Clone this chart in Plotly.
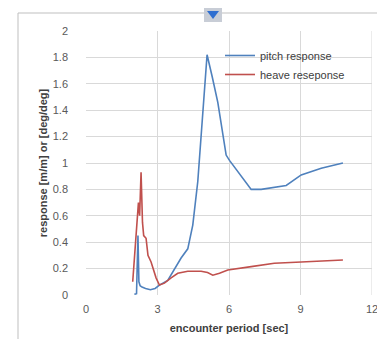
import plotly.graph_objects as go

pitch_x = [2.03, 2.12, 2.18, 2.22, 2.27, 2.35, 2.5, 2.7, 2.9, 3.08, 3.43, 3.71, 3.99, 4.27, 4.48, 4.69, 4.9, 5.08, 5.3, 5.53, 5.88, 6.02, 6.93, 7.35, 8.4, 9.03, 9.87, 10.78]
pitch_y = [0.005, 0.01, 0.45, 0.1, 0.07, 0.06, 0.05, 0.04, 0.05, 0.075, 0.11, 0.2, 0.28, 0.35, 0.53, 0.86, 1.41, 1.82, 1.65, 1.46, 1.06, 1.02, 0.80, 0.80, 0.83, 0.91, 0.96, 1.0]

heave_x = [1.96, 2.1, 2.2, 2.25, 2.31, 2.37, 2.42, 2.52, 2.6, 2.73, 2.94, 3.08, 3.29, 3.57, 3.85, 4.27, 4.83, 5.1, 5.32, 5.6, 5.95, 6.93, 7.9, 9.03, 10.78]
heave_y = [0.1, 0.45, 0.7, 0.6, 0.93, 0.55, 0.45, 0.43, 0.3, 0.25, 0.13, 0.075, 0.09, 0.13, 0.165, 0.18, 0.18, 0.17, 0.15, 0.165, 0.19, 0.215, 0.24, 0.25, 0.265]

x_ticks = [0, 3, 6, 9, 12]
y_ticks = [0, 0.2, 0.4, 0.6, 0.8, 1, 1.2, 1.4, 1.6, 1.8, 2]

fig = go.Figure()
fig.add_trace(go.Scatter(x=pitch_x, y=pitch_y, mode="lines", name="pitch response",
                         line=dict(color="#4F81BD", width=1.6)))
fig.add_trace(go.Scatter(x=heave_x, y=heave_y, mode="lines", name="heave reseponse",
                         line=dict(color="#C0504D", width=1.6)))

W, H = 385, 339
L, R, T, B = 78, 21, 23, 52
pw, ph = W - L - R, H - T - B

def px(xp):
    return (xp - L) / pw

def py(yp):
    return (H - B - yp) / ph

fig.update_layout(
    width=W, height=H,
    margin=dict(l=L, r=R, t=T, b=B),
    paper_bgcolor="white", plot_bgcolor="white",
    font=dict(family="Liberation Sans, Arial, sans-serif", size=10, color="#595959"),
    showlegend=True,
    legend=dict(x=px(212), y=py(33), xanchor="left", yanchor="top",
                bgcolor="rgba(255,255,255,0)", font=dict(size=11, color="#404040"),
                tracegroupgap=0, itemwidth=30),
    xaxis=dict(range=[0, 12], tickvals=x_ticks, showgrid=True, gridcolor="#D9D9D9",
               zeroline=False, showline=False, ticks="", ticklabelstandoff=6,
               title=dict(text="<b>encounter period [sec]</b>", font=dict(size=11, color="#404040"), standoff=10),
               tickfont=dict(size=11)),
    yaxis=dict(range=[0, 2], tickvals=y_ticks, showgrid=True, gridcolor="#D9D9D9",
               zeroline=False, showline=False, ticks="", ticklabelstandoff=17,
               title=dict(text="<b>response [m/m] or [deg/deg]</b>", font=dict(size=11, color="#404040"), standoff=2),
               tickfont=dict(size=11)),
    shapes=[
        dict(type="rect", xref="paper", yref="paper", x0=px(10), x1=px(384), y0=py(338), y1=py(5),
             line=dict(color="#BFBFBF", width=1), fillcolor="rgba(0,0,0,0)", layer="below"),
        dict(type="line", xref="x", yref="y", x0=12, x1=12, y0=0, y1=2,
             line=dict(color="#D9D9D9", width=1), layer="below"),
        dict(type="rect", xref="paper", yref="paper", x0=px(196), x1=px(214), y0=py(14), y1=py(0),
             line=dict(width=0), fillcolor="#C8CDD6"),
        dict(type="path", xref="paper", yref="paper",
             path=f"M {px(199)} {py(3)} L {px(211)} {py(3)} L {px(205)} {py(11)} Z",
             line=dict(width=0), fillcolor="#2F6FD0"),
    ],
)

fig.write_html("out.html")
